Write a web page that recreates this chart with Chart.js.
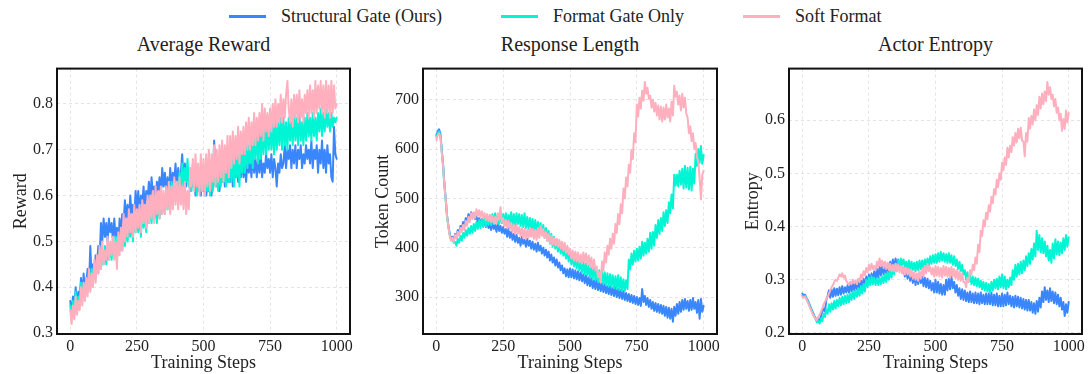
<!DOCTYPE html>
<html>
<head>
<meta charset="utf-8">
<script src="https://cdn.jsdelivr.net/npm/chart.js@4.4.1/dist/chart.umd.min.js"></script>
<style>
  body { margin: 0; background: #fff; font-family: "Liberation Serif", "Times New Roman", serif; color: #222; }
  #fig { position: relative; width: 1088px; height: 374px; overflow: hidden; }
  .key { position: absolute; top: 5px; height: 22px; font-size: 18px; line-height: 22px; white-space: nowrap; }
  .key i { position: absolute; left: 0; top: 10px; width: 37px; height: 3px; }
  .key span { position: absolute; left: 52px; }
  .title { position: absolute; top: 31px; font-size: 20px; line-height: 26px; text-align: center; }
  .panel { position: absolute; top: 55px; height: 319px; }
</style>
</head>
<body>
<div id="fig">
  <div class="key" style="left:229px"><i style="background:#3A86FF"></i><span>Structural Gate (Ours)</span></div>
  <div class="key" style="left:501px"><i style="background:#00F5D4"></i><span>Format Gate Only</span></div>
  <div class="key" style="left:743px"><i style="background:#FFAFBD"></i><span>Soft Format</span></div>

  <div class="title" style="left:57px;width:293px">Average Reward</div>
  <div class="title" style="left:423px;width:294px">Response Length</div>
  <div class="title" style="left:789px;width:293px">Actor Entropy</div>

  <div class="panel" style="left:0;width:365px"><canvas id="p-reward"></canvas></div>
  <div class="panel" style="left:366px;width:365px"><canvas id="p-length"></canvas></div>
  <div class="panel" style="left:732px;width:356px"><canvas id="p-entropy"></canvas></div>
</div>
<script>
// training steps (logged every 5 steps)
const steps = [
  0,5,10,15,20,25,30,35,40,45, 50,55,60,65,70,75,80,85,90,95,
  100,105,110,115,120,125,130,135,140,145, 150,155,160,165,170,175,180,185,190,195,
  200,205,210,215,220,225,230,235,240,245, 250,255,260,265,270,275,280,285,290,295,
  300,305,310,315,320,325,330,335,340,345, 350,355,360,365,370,375,380,385,390,395,
  400,405,410,415,420,425,430,435,440,445, 450,455,460,465,470,475,480,485,490,495,
  500,505,510,515,520,525,530,535,540,545, 550,555,560,565,570,575,580,585,590,595,
  600,605,610,615,620,625,630,635,640,645, 650,655,660,665,670,675,680,685,690,695,
  700,705,710,715,720,725,730,735,740,745, 750,755,760,765,770,775,780,785,790,795,
  800,805,810,815,820,825,830,835,840,845, 850,855,860,865,870,875,880,885,890,895,
  900,905,910,915,920,925,930,935,940,945, 950,955,960,965,970,975,980,985,990,995,
  1000];
const xTicks = [0, 250, 500, 750, 1000];

// ---- Average Reward ----
const rewardStructural = [
  0.37,0.34,0.38,0.35,0.40,0.36,0.39,0.37,0.42,0.38, 0.43,0.39,0.41,0.44,0.40,0.49,0.42,0.45,0.43,0.47,
  0.45,0.49,0.46,0.54,0.50,0.55,0.51,0.54,0.50,0.55, 0.52,0.54,0.50,0.55,0.51,0.53,0.49,0.55,0.52,0.56,
  0.54,0.59,0.55,0.58,0.54,0.60,0.56,0.58,0.55,0.61, 0.57,0.61,0.56,0.60,0.58,0.62,0.57,0.61,0.59,0.63,
  0.59,0.64,0.60,0.62,0.58,0.63,0.61,0.64,0.60,0.66, 0.62,0.65,0.61,0.64,0.60,0.66,0.62,0.65,0.63,0.67,
  0.62,0.66,0.63,0.65,0.69,0.63,0.67,0.62,0.66,0.64, 0.61,0.65,0.62,0.64,0.60,0.66,0.61,0.63,0.60,0.64,
  0.61,0.63,0.60,0.62,0.61,0.64,0.60,0.63,0.72,0.64, 0.62,0.66,0.61,0.65,0.63,0.67,0.62,0.65,0.63,0.66,
  0.63,0.67,0.62,0.66,0.64,0.67,0.63,0.66,0.64,0.68, 0.64,0.67,0.63,0.68,0.65,0.67,0.64,0.69,0.65,0.68,
  0.64,0.68,0.65,0.69,0.64,0.67,0.65,0.69,0.66,0.68, 0.65,0.69,0.64,0.68,0.66,0.62,0.67,0.65,0.69,0.66,
  0.67,0.71,0.66,0.70,0.68,0.71,0.66,0.70,0.67,0.71, 0.66,0.70,0.68,0.71,0.66,0.69,0.67,0.71,0.68,0.70,
  0.67,0.72,0.66,0.70,0.68,0.71,0.65,0.70,0.67,0.72, 0.66,0.70,0.65,0.71,0.67,0.69,0.64,0.63,0.75,0.69,
  0.68];
const rewardFormatGate = [
  0.36,0.33,0.37,0.34,0.39,0.35,0.38,0.36,0.41,0.37, 0.41,0.38,0.42,0.39,0.43,0.40,0.44,0.41,0.45,0.42,
  0.46,0.43,0.48,0.44,0.47,0.45,0.49,0.45,0.48,0.46, 0.49,0.46,0.50,0.47,0.51,0.46,0.50,0.48,0.52,0.48,
  0.53,0.49,0.54,0.50,0.53,0.51,0.55,0.50,0.56,0.52, 0.55,0.52,0.56,0.51,0.57,0.53,0.56,0.52,0.58,0.54,
  0.58,0.54,0.59,0.55,0.58,0.54,0.60,0.55,0.59,0.56, 0.60,0.56,0.61,0.57,0.62,0.57,0.63,0.58,0.62,0.59,
  0.63,0.60,0.65,0.61,0.67,0.62,0.66,0.63,0.68,0.62, 0.66,0.61,0.67,0.62,0.65,0.60,0.66,0.61,0.64,0.61,
  0.63,0.60,0.64,0.61,0.63,0.60,0.65,0.61,0.64,0.62, 0.65,0.61,0.66,0.62,0.67,0.63,0.66,0.62,0.68,0.63,
  0.68,0.63,0.69,0.62,0.70,0.64,0.69,0.62,0.71,0.65, 0.71,0.65,0.72,0.66,0.71,0.67,0.73,0.66,0.74,0.68,
  0.74,0.67,0.75,0.68,0.74,0.69,0.75,0.69,0.76,0.70, 0.75,0.70,0.76,0.69,0.77,0.70,0.76,0.71,0.77,0.70,
  0.77,0.71,0.76,0.70,0.77,0.72,0.76,0.71,0.78,0.72, 0.77,0.71,0.78,0.72,0.76,0.71,0.77,0.72,0.78,0.73,
  0.77,0.72,0.78,0.73,0.77,0.72,0.78,0.74,0.79,0.73, 0.78,0.74,0.79,0.75,0.78,0.74,0.78,0.75,0.77,0.76,
  0.77];
const rewardSoft = [
  0.35,0.32,0.36,0.33,0.38,0.34,0.37,0.35,0.40,0.36, 0.41,0.37,0.42,0.38,0.44,0.39,0.43,0.40,0.46,0.41,
  0.47,0.43,0.49,0.44,0.50,0.45,0.48,0.46,0.51,0.46, 0.50,0.47,0.51,0.46,0.50,0.44,0.52,0.47,0.53,0.48,
  0.56,0.50,0.55,0.51,0.57,0.52,0.56,0.51,0.58,0.52, 0.57,0.53,0.58,0.52,0.59,0.54,0.58,0.53,0.60,0.54,
  0.60,0.55,0.61,0.54,0.62,0.56,0.61,0.55,0.62,0.56, 0.61,0.56,0.62,0.57,0.63,0.56,0.62,0.57,0.64,0.58,
  0.63,0.57,0.64,0.58,0.62,0.57,0.63,0.56,0.61,0.57, 0.66,0.62,0.68,0.61,0.69,0.62,0.67,0.60,0.69,0.61,
  0.68,0.60,0.69,0.62,0.70,0.61,0.69,0.63,0.71,0.62, 0.70,0.63,0.71,0.64,0.72,0.63,0.71,0.65,0.73,0.64,
  0.73,0.66,0.74,0.67,0.73,0.68,0.75,0.67,0.74,0.69, 0.75,0.69,0.76,0.70,0.77,0.70,0.76,0.71,0.78,0.71,
  0.77,0.72,0.78,0.73,0.80,0.72,0.79,0.74,0.78,0.73, 0.79,0.74,0.80,0.75,0.81,0.75,0.80,0.76,0.82,0.76,
  0.81,0.77,0.82,0.85,0.79,0.76,0.81,0.75,0.82,0.77, 0.82,0.76,0.83,0.77,0.81,0.76,0.82,0.78,0.83,0.77,
  0.84,0.78,0.83,0.77,0.85,0.78,0.84,0.79,0.85,0.78, 0.84,0.77,0.85,0.78,0.84,0.77,0.85,0.78,0.84,0.79,
  0.80];
const rewardTicks = [0.3, 0.4, 0.5, 0.6, 0.7, 0.8];

// ---- Response Length ----
const lengthStructural = [
  628,636,640,632,600,570,530,500,465,445, 428,418,422,414,428,420,436,428,444,438,
  452,444,460,450,468,458,472,462,470,458, 464,452,460,448,458,446,452,442,455,440,
  448,436,452,438,446,432,450,434,444,430, 442,428,438,422,440,420,432,416,428,412,
  426,410,420,404,422,408,416,402,418,404, 414,398,412,396,408,392,410,394,404,388,
  400,384,396,380,392,374,386,370,380,364, 376,360,370,354,364,348,358,342,356,340,
  358,340,356,338,354,336,352,334,350,332, 346,328,344,324,340,322,338,318,334,316,
  334,314,330,312,328,310,326,308,322,306, 322,304,318,302,320,300,316,298,314,296,
  312,294,308,292,306,290,304,288,302,286, 300,284,298,282,316,290,302,284,298,280,
  294,276,290,272,288,270,286,268,284,266, 282,262,280,258,278,256,276,250,280,262,
  286,266,290,270,294,274,296,276,292,272, 294,274,298,276,290,268,294,256,296,270,
  282];
const lengthFormatGate = [
  624,632,636,628,596,566,526,496,462,442, 426,416,418,410,412,404,418,410,424,414,
  430,420,436,424,440,428,444,430,448,434, 452,438,456,440,458,442,462,444,460,446,
  466,446,468,448,470,450,466,448,472,450, 468,448,470,446,466,448,472,446,468,444,
  470,448,468,444,466,442,470,440,462,438, 460,436,458,432,456,430,452,428,450,426,
  446,420,440,414,434,408,428,402,422,398, 416,392,412,388,408,384,400,378,396,372,
  390,366,386,362,382,358,378,354,374,350, 372,346,368,344,364,340,360,336,358,334,
  356,330,354,328,352,326,350,324,348,322, 346,320,344,318,342,316,344,314,340,312,
  336,312,334,316,376,356,388,366,394,372, 398,374,402,378,412,384,410,388,418,392,
  430,398,432,404,446,420,456,428,460,434, 472,444,476,450,492,470,508,480,548,526,
  548,524,556,528,560,520,566,522,562,518, 564,516,560,530,590,566,600,572,606,570,
  588];
const lengthSoft = [
  618,628,632,626,594,566,528,498,464,442, 424,414,420,412,426,418,432,424,440,432,
  446,436,454,444,462,452,470,458,472,460, 478,464,476,462,474,460,470,456,468,454,
  466,452,464,450,462,448,470,456,482,452, 460,444,456,440,454,436,450,432,446,428,
  446,428,442,424,440,420,438,418,436,420, 440,422,438,418,436,416,440,420,444,424,
  438,420,432,414,428,410,424,406,420,404, 418,402,416,398,412,394,410,390,404,386,
  398,378,394,374,392,372,390,370,386,368, 390,370,388,366,384,362,380,358,376,354,
  362,340,350,330,372,354,390,370,404,386, 418,398,428,408,448,430,468,448,488,470,
  520,500,542,524,568,552,598,580,632,614, 690,666,704,682,718,698,736,712,724,702,
  708,684,700,676,694,668,688,660,686,656, 684,660,690,664,682,656,696,668,728,706,
  716,690,708,678,712,684,704,672,664,632, 646,616,632,600,612,584,574,540,498,548,
  556];
const lengthTicks = [300, 400, 500, 600, 700];

// ---- Actor Entropy ----
const entropyStructural = [
  0.274,0.270,0.272,0.266,0.262,0.256,0.250,0.244,0.238,0.232, 0.228,0.222,0.226,0.222,0.232,0.240,0.246,0.240,0.262,0.270,
  0.280,0.266,0.282,0.268,0.284,0.270,0.283,0.271,0.286,0.272, 0.288,0.274,0.286,0.276,0.290,0.276,0.291,0.278,0.292,0.280,
  0.294,0.282,0.296,0.283,0.298,0.286,0.302,0.288,0.306,0.292, 0.310,0.296,0.312,0.298,0.316,0.300,0.320,0.304,0.324,0.308,
  0.328,0.310,0.326,0.312,0.330,0.314,0.334,0.318,0.338,0.322, 0.340,0.324,0.338,0.322,0.330,0.314,0.322,0.306,0.320,0.302,
  0.316,0.298,0.312,0.294,0.310,0.290,0.308,0.292,0.312,0.294, 0.306,0.288,0.304,0.286,0.302,0.284,0.298,0.280,0.294,0.276,
  0.300,0.276,0.296,0.274,0.292,0.272,0.290,0.272,0.300,0.280, 0.302,0.282,0.306,0.284,0.296,0.276,0.290,0.270,0.284,0.264,
  0.282,0.262,0.280,0.260,0.276,0.258,0.278,0.258,0.274,0.256, 0.276,0.256,0.274,0.254,0.276,0.256,0.272,0.254,0.274,0.254,
  0.274,0.254,0.276,0.252,0.272,0.252,0.274,0.250,0.270,0.250, 0.274,0.250,0.272,0.252,0.276,0.254,0.270,0.250,0.268,0.248,
  0.270,0.250,0.268,0.248,0.266,0.246,0.264,0.244,0.262,0.242, 0.262,0.242,0.258,0.238,0.256,0.236,0.260,0.240,0.266,0.248,
  0.278,0.258,0.286,0.262,0.280,0.258,0.284,0.260,0.278,0.256, 0.276,0.254,0.272,0.250,0.266,0.244,0.258,0.232,0.254,0.238,
  0.258];
const entropyFormatGate = [
  0.270,0.268,0.270,0.264,0.260,0.254,0.248,0.242,0.236,0.230, 0.226,0.220,0.222,0.218,0.226,0.222,0.236,0.230,0.244,0.236,
  0.254,0.240,0.256,0.244,0.260,0.246,0.262,0.250,0.266,0.252, 0.268,0.254,0.270,0.256,0.272,0.258,0.274,0.262,0.278,0.264,
  0.280,0.268,0.284,0.270,0.288,0.274,0.292,0.278,0.300,0.286, 0.304,0.290,0.306,0.292,0.304,0.290,0.302,0.290,0.304,0.292,
  0.306,0.294,0.310,0.296,0.314,0.300,0.318,0.304,0.324,0.310, 0.330,0.316,0.336,0.322,0.340,0.328,0.338,0.324,0.334,0.320,
  0.336,0.320,0.334,0.318,0.332,0.316,0.334,0.318,0.336,0.320, 0.336,0.322,0.338,0.324,0.340,0.326,0.344,0.330,0.346,0.332,
  0.348,0.332,0.350,0.334,0.352,0.336,0.350,0.334,0.348,0.332, 0.350,0.332,0.346,0.328,0.344,0.326,0.338,0.320,0.334,0.316,
  0.328,0.310,0.318,0.300,0.314,0.296,0.308,0.292,0.306,0.290, 0.304,0.288,0.302,0.286,0.298,0.282,0.296,0.280,0.294,0.278,
  0.292,0.276,0.296,0.280,0.300,0.284,0.302,0.282,0.306,0.286, 0.310,0.284,0.306,0.282,0.300,0.286,0.304,0.290,0.318,0.300,
  0.328,0.306,0.330,0.310,0.334,0.312,0.336,0.318,0.344,0.326, 0.350,0.330,0.358,0.338,0.368,0.344,0.392,0.356,0.384,0.352,
  0.378,0.350,0.372,0.344,0.364,0.336,0.356,0.332,0.368,0.340, 0.376,0.348,0.372,0.346,0.370,0.350,0.378,0.356,0.384,0.362,
  0.380];
const entropySoft = [
  0.268,0.266,0.268,0.264,0.258,0.252,0.246,0.240,0.234,0.230, 0.226,0.224,0.230,0.234,0.240,0.246,0.254,0.258,0.264,0.268,
  0.274,0.280,0.286,0.290,0.296,0.300,0.298,0.304,0.310,0.306, 0.312,0.304,0.308,0.298,0.294,0.290,0.296,0.292,0.300,0.294,
  0.298,0.292,0.302,0.296,0.310,0.302,0.316,0.308,0.322,0.314, 0.328,0.318,0.330,0.320,0.326,0.318,0.334,0.324,0.340,0.326,
  0.336,0.322,0.334,0.320,0.332,0.318,0.330,0.316,0.328,0.316, 0.330,0.316,0.328,0.314,0.326,0.312,0.324,0.310,0.322,0.310,
  0.320,0.306,0.318,0.302,0.314,0.300,0.312,0.298,0.316,0.302, 0.320,0.306,0.326,0.312,0.330,0.316,0.324,0.310,0.322,0.306,
  0.326,0.308,0.324,0.306,0.322,0.304,0.326,0.308,0.324,0.306, 0.322,0.304,0.324,0.306,0.320,0.302,0.318,0.300,0.316,0.298,
  0.312,0.296,0.296,0.286,0.304,0.296,0.318,0.310,0.328,0.318, 0.342,0.330,0.366,0.352,0.392,0.382,0.412,0.400,0.426,0.414,
  0.440,0.428,0.456,0.444,0.470,0.460,0.488,0.474,0.500,0.488, 0.520,0.506,0.530,0.516,0.548,0.530,0.552,0.540,0.568,0.552,
  0.576,0.558,0.584,0.566,0.586,0.562,0.560,0.532,0.576,0.560, 0.604,0.584,0.608,0.592,0.620,0.600,0.628,0.610,0.644,0.622,
  0.650,0.630,0.654,0.636,0.672,0.648,0.662,0.640,0.648,0.626, 0.640,0.614,0.624,0.600,0.612,0.580,0.602,0.584,0.618,0.596,
  0.614];
const entropyTicks = [0.2, 0.3, 0.4, 0.5, 0.6];

const seriesColors = { structural: '#3A86FF', format: '#00F5D4', soft: '#FFAFBD' };
const serif = '"Liberation Serif", "Times New Roman", serif';

const frame = {
  id: 'frame',
  afterDraw(chart) {
    const a = chart.chartArea, ctx = chart.ctx;
    ctx.save();
    ctx.strokeStyle = '#111';
    ctx.lineWidth = 2;
    ctx.strokeRect(a.left, a.top, a.right - a.left, a.bottom - a.top);
    ctx.restore();
  }
};

const pts = ys => ys.map((y, i) => ({ x: steps[i], y }));
const line = (label, ys, color, order) => ({
  label, data: pts(ys), borderColor: color, backgroundColor: color,
  borderWidth: 2, borderJoinStyle: 'round', borderCapStyle: 'round',
  pointRadius: 0, tension: 0, fill: false, order
});

function panel(id, sets, yMin, yMax, yTicks, yTitle, fmt, padRight, titlePad) {
  new Chart(document.getElementById(id), {
    type: 'line',
    data: { datasets: [
      line('Structural Gate (Ours)', sets[0], seriesColors.structural, 3),
      line('Format Gate Only', sets[1], seriesColors.format, 2),
      line('Soft Format', sets[2], seriesColors.soft, 1)
    ] },
    options: {
      responsive: true, maintainAspectRatio: false, animation: false,
      layout: { padding: { top: 6, right: padRight, bottom: 0, left: 0 } },
      plugins: { legend: { display: false }, tooltip: { enabled: false } },
      scales: {
        x: {
          type: 'linear', min: -50, max: 1050,
          afterBuildTicks: s => { s.ticks = xTicks.map(v => ({ value: v })); },
          afterFit: s => { s.height = 40; },
          grid: { color: '#dedede', lineWidth: 0.8, drawTicks: false },
          border: { display: false, dash: [3, 3] },
          ticks: { color: '#222', padding: 3, font: { family: serif, size: 16 }, callback: v => String(v) },
          title: { display: true, text: 'Training Steps', color: '#222', padding: 0, font: { family: serif, size: 18 } }
        },
        y: {
          min: yMin, max: yMax,
          afterBuildTicks: s => { s.ticks = yTicks.map(v => ({ value: v })); },
          afterFit: s => { s.width = 57; },
          grid: { color: '#dedede', lineWidth: 0.8, drawTicks: false },
          border: { display: false, dash: [3, 3] },
          ticks: { color: '#222', padding: 4, font: { family: serif, size: 16 }, callback: fmt },
          title: { display: true, text: yTitle, color: '#222', padding: { top: titlePad, bottom: 0 }, font: { family: serif, size: 18 } }
        }
      }
    },
    plugins: [frame]
  });
}

panel('p-reward', [rewardStructural, rewardFormatGate, rewardSoft], 0.298, 0.877, rewardTicks, 'Reward', v => v.toFixed(1), 15, 10);
panel('p-length', [lengthStructural, lengthFormatGate, lengthSoft], 225, 763, lengthTicks, 'Token Count', v => String(v), 14, 6);
panel('p-entropy', [entropyStructural, entropyFormatGate, entropySoft], 0.198, 0.697, entropyTicks, 'Entropy', v => v.toFixed(1), 6, 10);
</script>
</body>
</html>
